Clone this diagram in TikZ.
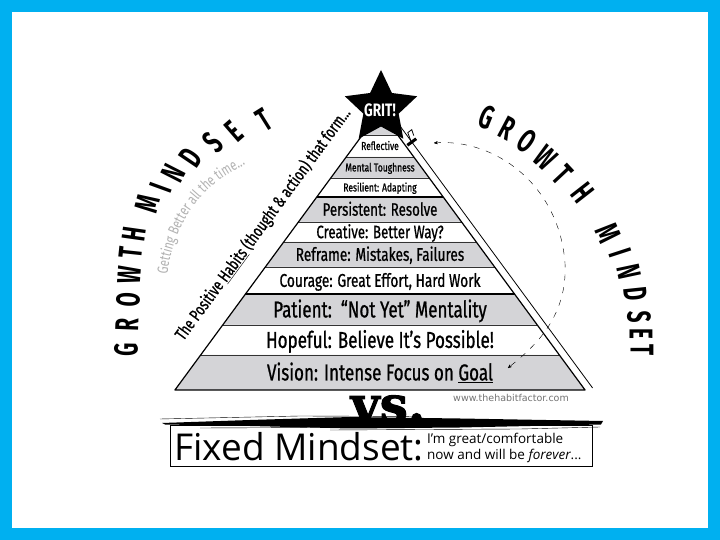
\documentclass[tikz,border=0pt]{standalone}
\usepackage{fontspec}
\setmainfont{Fira Sans}
\newfontfamily\condfont[FakeStretch=0.75]{Fira Sans}
\newfontfamily\rowfont[FakeStretch=0.74, FakeBold=0.8]{Fira Sans}
\newfontfamily\narrowfont[FakeStretch=0.62]{Fira Sans}
\newfontfamily\opensans{Open Sans}
\newfontfamily\slabfont[FakeBold=2]{DejaVu Serif}
\newfontfamily\urlfont{DejaVu Sans}
\usepackage{tikz}
\usetikzlibrary{shapes.geometric,decorations.text,arrows,positioning}
\tikzset{>=stealth'}
\definecolor{framecyan}{HTML}{00B0F0}
\definecolor{rowgrey}{HTML}{D4D4D7}

\begin{document}
\begin{tikzpicture}[x=1pt, y=1pt,
                    rowtext/.style={inner sep=0pt, anchor=base},
                    bigletter/.style={inner sep=0pt, font=\narrowfont\bfseries\fontsize{33}{33}\selectfont},
                    rowline/.style={thin, black!80},
                    pyredge/.style={very thick, black, line join=round},
                    dasharrow/.style={thin, black, dash pattern=on 6pt off 7pt, <->},
                    declare function={hw(\t)=0.735*(429-\t);},
                   ]

% frame
\fill[framecyan] (0,0) rectangle (720,540);
\fill[white] (12,12) rectangle (708,528);

% pyramid rows
\foreach \yt/\yb/\col/\sz/\txt in {
    429/405/rowgrey/10/{},
    405/383/white/11.5/{Reflective},
    383/362/rowgrey/11.5/{Mental Toughness},
    362/343/white/11.5/{Resilient: Adapting},
    343/318/rowgrey/18/{Persistent: Resolve},
    318/298/white/18/{Creative: Better Way?},
    298/273/rowgrey/18.5/{Reframe: Mistakes, Failures},
    273/246/white/18.5/{Courage: Great Effort, Hard Work},
    246/215/rowgrey/23/{Patient:\ \ “Not Yet” Mentality},
    215/185/white/23/{Hopeful: Believe It’s Possible!},
    185/150/rowgrey/23/{Vision: Intense Focus on \underline{Goal}}}
{
  \fill[\col] ({380-hw(\yt)},\yt) -- ({380+hw(\yt)},\yt) -- ({380+hw(\yb)},\yb) -- ({380-hw(\yb)},\yb) -- cycle;
  \node[rowtext, font=\rowfont\fontsize{\sz}{\sz}\selectfont] (row\yb) at (380,{(\yt+\yb)/2-0.345*\sz}) {\txt};
}

\foreach \yl in {405,383,362,318,298,273,215,185}
  \draw[rowline] ({380-hw(\yl)},\yl) -- ({380+hw(\yl)},\yl);
\foreach \yl in {343,246}
  \draw[very thick] ({380-hw(\yl)},\yl) -- ({380+hw(\yl)},\yl);

% outline
\coordinate (apex) at (380,429);
\coordinate (bl) at ({380-hw(150)},150);
\coordinate (br) at ({380+hw(150)},150);
\draw[pyredge] (bl) -- (apex) -- (br) -- cycle;

% outer line and slider
\coordinate (otop) at ({389+hw(414)},414);
\coordinate (obot) at ({389+hw(152)},152);
\draw[thick] (otop) -- (obot);
\node[fill=black, minimum width=11pt, minimum height=3pt, inner sep=0pt, rotate=36.3] (slider) at ({389+hw(398)},398) {};
\draw[thick] (slider.north) -- ++(-3,8) -- ++(4,3) -- ++(2,-6);

% star
\node[star, star points=5, star point ratio=2.05, fill=black, minimum size=76pt, inner sep=0pt] (grit) at (381,432) {};
\node[text=white, font=\condfont\bfseries\fontsize{18}{18}\selectfont, inner sep=0pt] (gritlabel) at (380,430) {GRIT!};

% dashed loop
\coordinate (dstart) at (434,397);
\coordinate (dend) at (508,172);
\draw[dasharrow] (dstart) .. controls (494,402) and (559,356) .. (565,277) .. controls (568,220) and (530,190) .. (dend);

% habits along left edge
\node[rotate=53.7, inner sep=0pt, font=\rowfont\fontsize{17}{17}\selectfont] (habits) at (263,316)
  {The Positive \underline{Habits} (thought \& action) that form...};

% getting better
\path[decorate, decoration={text along path, text align=center,
      text={|\condfont\fontsize{15}{15}\selectfont\color{black!30}|Getting Better all the time...}}]
  (166,252) .. controls (170,318) and (205,362) .. (258,380);

% GROWTH MINDSET left
\foreach \ch/\px/\py/\ang [count=\i] in {G/126/190/89, R/127/215/88, O/128/240/87, W/129/265/86, T/131/287/84, H/134/306/82,
    M/148/336/75, I/161/352/70, N/173/367/63, D/191/382/56, S/213/397/48, E/234/409/41, T/264/420/32}
  \node[bigletter, rotate=\ang] (lg\i) at (\px,\py) {\ch};

% GROWTH MINDSET right
\foreach \ch/\px/\py/\ang [count=\i] in {G/487/423/-22, R/507/412/-28, O/527/399/-35, W/546/382/-42, T/563/365/-47, H/583/347/-52,
    M/608/307/-66, I/620/287/-72, N/629/268/-78, D/636/246/-84, S/639/223/-88, E/641/206/-90, T/642/190/-90}
  \node[bigletter, rotate=\ang] (rg\i) at (\px,\py) {\ch};

% url
\node[text=black!55, font=\urlfont\fontsize{9.5}{9.5}\selectfont, inner sep=0pt] (url) at (511,142) {www.thehabitfactor.com};

% fixed mindset box
\draw[thick] (170,74) rectangle (592,115);
\node[anchor=west, inner sep=0pt, font=\opensans\fontsize{37}{37}\selectfont] (fixed) at (174,93) {Fixed Mindset:};
\node[anchor=west, align=left, inner sep=0pt, font=\opensans\fontsize{13.5}{16}\selectfont] (fixednote) at (427,92)
  {I’m great/comfortable\\now and will be \textit{forever}...};

% brush stroke
\fill (162,117) -- (250,120) -- (350,123) -- (460,121.5) -- (603,119) -- (601,115.5) -- (460,112.5) -- (350,111.5) -- (250,114) -- (165,115.5) -- cycle;
\draw[thin] (160,121) -- (300,124) -- (420,123.5);
\draw[thin] (330,110) -- (520,111) -- (600,113);
\draw[thin] (200,112) -- (320,112.5);

% vs
\node[anchor=base, inner sep=0pt, font=\slabfont\bfseries\fontsize{50}{50}\selectfont] (vs) at (388,118) {vs.};

\end{tikzpicture}
\end{document}
